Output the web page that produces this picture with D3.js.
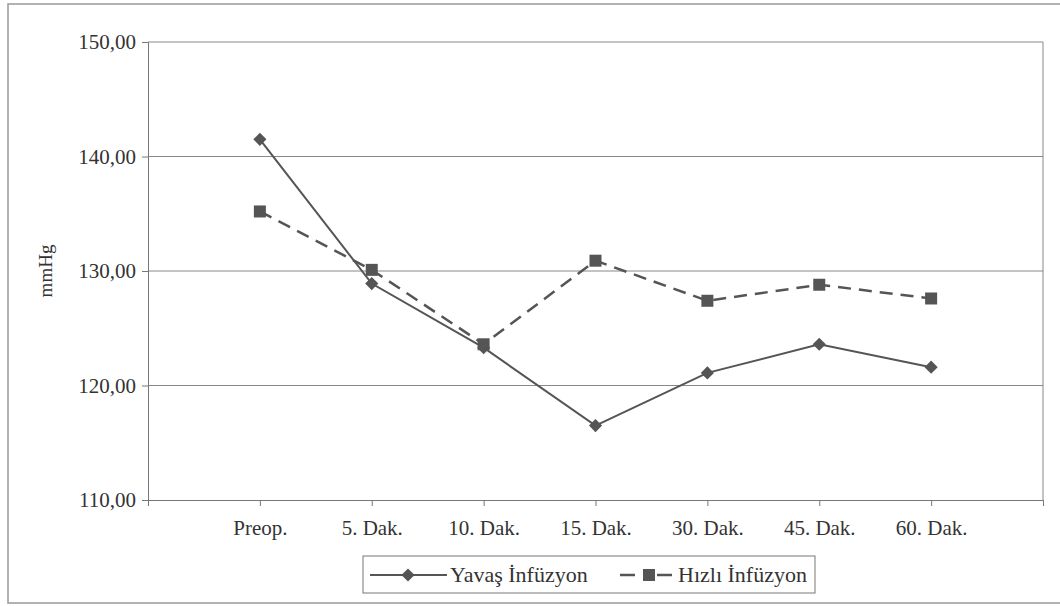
<!DOCTYPE html>
<html>
<head>
<meta charset="utf-8">
<script src="https://cdn.jsdelivr.net/npm/d3@7"></script>
<style>
  body { margin: 0; background: #fff; }
  text { font-family: "Liberation Serif", "Times New Roman", serif; fill: #333; }
</style>
</head>
<body>
<svg id="chart" width="1060" height="606"></svg>
<script>
// categories (first and last axis slots are empty)
var categories = ["Preop.", "5. Dak.", "10. Dak.", "15. Dak.", "30. Dak.", "45. Dak.", "60. Dak."];
var yavas = [141.5, 128.9, 123.3, 116.5, 121.1, 123.6, 121.6];
var hizli = [135.2, 130.1, 123.6, 130.9, 127.4, 128.8, 127.6];
var yTicks = [110, 120, 130, 140, 150];

var svg = d3.select("#chart");
var plotLeft = 148, plotRight = 1043, plotTop = 42, plotBottom = 500;

// outer frame
svg.append("rect")
    .attr("x", 8).attr("y", 4)
    .attr("width", 1060).attr("height", 599)
    .attr("fill", "none").attr("stroke", "#999").attr("stroke-width", 1.5);

var x = d3.scaleLinear().domain([0, categories.length + 1]).range([plotLeft, plotRight]);
var y = d3.scaleLinear().domain([110, 150]).range([plotBottom, plotTop]);

// gridlines
svg.append("g").selectAll("line")
    .data(yTicks.slice(1))
    .enter().append("line")
    .attr("x1", plotLeft).attr("x2", plotRight)
    .attr("y1", function (d) { return y(d); })
    .attr("y2", function (d) { return y(d); })
    .attr("stroke", "#888").attr("stroke-width", 1);

// plot border right side
svg.append("line")
    .attr("x1", plotRight).attr("x2", plotRight).attr("y1", plotTop).attr("y2", plotBottom)
    .attr("stroke", "#888").attr("stroke-width", 1);

// y axis
var yAxis = d3.axisLeft(y)
    .tickValues(yTicks)
    .tickSize(6)
    .tickPadding(6)
    .tickFormat(function (d) { return d3.format(".2f")(d).replace(".", ","); });
var gy = svg.append("g").attr("transform", "translate(" + plotLeft + ",0)").call(yAxis);
gy.selectAll("text").style("font-size", "21px");

// x axis
var xAxis = d3.axisBottom(x)
    .tickValues(d3.range(0, categories.length + 2))
    .tickSize(6)
    .tickPadding(14)
    .tickFormat(function (i) { return categories[i - 1] || ""; });
var gx = svg.append("g").attr("transform", "translate(0," + plotBottom + ")").call(xAxis);
gx.selectAll("text").style("font-size", "21px");

svg.selectAll(".domain").attr("stroke", "#777");
svg.selectAll(".tick line").attr("stroke", "#777");

// y label
svg.append("text")
    .attr("transform", "translate(52,271) rotate(-90)")
    .attr("text-anchor", "middle")
    .style("font-size", "19px")
    .text("mmHg");

var line = d3.line()
    .x(function (d, i) { return x(i + 1); })
    .y(function (d) { return y(d); });

var ink = "#555";

// Hızlı infüzyon (dashed, squares)
svg.append("path")
    .datum(hizli)
    .attr("d", line)
    .attr("fill", "none").attr("stroke", ink)
    .attr("stroke-width", 2.5).attr("stroke-dasharray", "13,8");

svg.append("g").selectAll("rect")
    .data(hizli)
    .enter().append("rect")
    .attr("x", function (d, i) { return x(i + 1) - 6; })
    .attr("y", function (d) { return y(d) - 6; })
    .attr("width", 12).attr("height", 12)
    .attr("fill", ink);

// Yavaş infüzyon (solid, diamonds)
svg.append("path")
    .datum(yavas)
    .attr("d", line)
    .attr("fill", "none").attr("stroke", ink).attr("stroke-width", 2);

var diamond = d3.symbol().type(d3.symbolDiamond2).size(110);
svg.append("g").selectAll("path")
    .data(yavas)
    .enter().append("path")
    .attr("d", diamond)
    .attr("transform", function (d, i) { return "translate(" + x(i + 1) + "," + y(d) + ")"; })
    .attr("fill", ink);

// legend
var lg = svg.append("g");
lg.append("rect")
    .attr("x", 363).attr("y", 556).attr("width", 452).attr("height", 37)
    .attr("fill", "#fff").attr("stroke", "#777").attr("stroke-width", 1);

lg.append("line")
    .attr("x1", 370).attr("x2", 447).attr("y1", 575).attr("y2", 575)
    .attr("stroke", ink).attr("stroke-width", 2);
lg.append("path")
    .attr("d", diamond)
    .attr("transform", "translate(408,575)")
    .attr("fill", ink);
lg.append("text")
    .attr("x", 450).attr("y", 582)
    .style("font-size", "22px")
    .text("Yavaş İnfüzyon");

lg.append("line")
    .attr("x1", 620).attr("x2", 672).attr("y1", 575).attr("y2", 575)
    .attr("stroke", ink).attr("stroke-width", 2.5).attr("stroke-dasharray", "15,22,15");
lg.append("rect")
    .attr("x", 643).attr("y", 569).attr("width", 12).attr("height", 12)
    .attr("fill", ink);
lg.append("text")
    .attr("x", 678).attr("y", 582)
    .style("font-size", "22px")
    .text("Hızlı İnfüzyon");
</script>
</body>
</html>
